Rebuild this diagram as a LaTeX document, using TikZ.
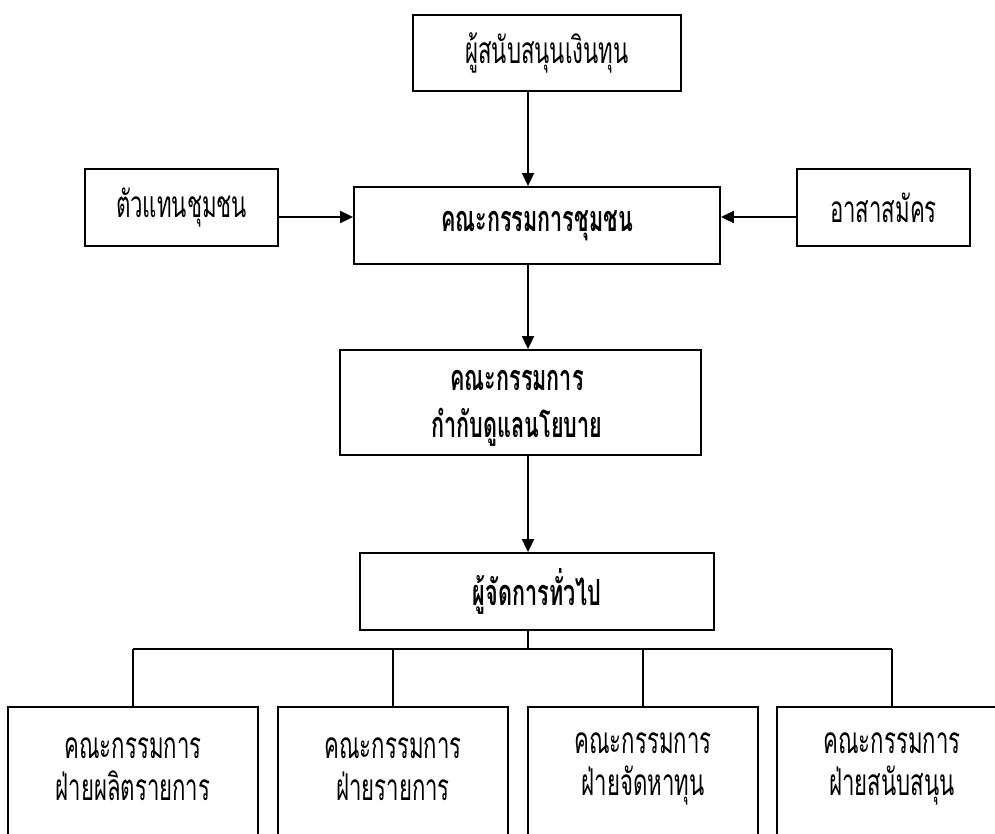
\documentclass[tikz,border=0pt]{standalone}
\usepackage{fontspec}
\newfontfamily\thaif[Script=Thai,FakeStretch=0.6]{Loma}
\usetikzlibrary{arrows.meta}
\begin{document}
\begin{tikzpicture}[x=1pt,y=-1pt,
  box/.style={draw, line width=1.8pt, inner sep=0pt, fill=white},
  txt/.style={font=\thaif\fontsize{37}{42}\selectfont, align=center, inner sep=0pt},
  btxt/.style={font=\thaif\bfseries\fontsize{36}{47}\selectfont, align=center, inner sep=0pt},
  arr/.style={line width=1.8pt, -{Triangle[length=13pt,width=12pt]}},
  ln/.style={line width=1.8pt}]
\useasboundingbox (0,0) rectangle (995,834);
\fill[white] (0,0) rectangle (995,834);
% top row
\node[box, txt, minimum width=268, minimum height=76] (fund) at (547,53) {ผู้สนับสนุนเงินทุน};
\node[box, txt, minimum width=193, minimum height=77] (rep) at (181.5,207.5) {ตัวแทนชุมชน};
\node[box, btxt, minimum width=366, minimum height=77] (comm) at (537,225.5) {คณะกรรมการชุมชน};
\node[box, txt, minimum width=173, minimum height=77] (vol) at (883.5,207.5) {อาสาสมัคร};
\node[box, minimum width=361, minimum height=105] (pol) at (520.5,402.5) {};
\node[btxt] (polt) at (517,408) {คณะกรรมการ\\กำกับดูแลนโยบาย};
\node[box, btxt, minimum width=354, minimum height=77] (gm) at (537,591.5) {ผู้จัดการทั่วไป};
% bottom row
\node[box, minimum width=250, minimum height=140] (b1) at (133,777) {};
\node[box, minimum width=230, minimum height=140] (b2) at (393,777) {};
\node[box, minimum width=230, minimum height=140] (b3) at (643,777) {};
\node[box, minimum width=230, minimum height=140] (b4) at (892,777) {};
\node[txt] (t1) at (b1.center |- 0,769) {คณะกรรมการ\\ฝ่ายผลิตรายการ};
\node[txt] (t2) at (b2.center |- 0,769) {คณะกรรมการ\\ฝ่ายรายการ};
\node[txt] (t3) at (b3.center |- 0,769) {คณะกรรมการ\\ฝ่ายจัดหาทุน};
\node[txt] (t4) at (b4.center |- 0,769) {คณะกรรมการ\\ฝ่ายสนับสนุน};
% connectors
\coordinate (ax) at (528,0);
\draw[arr] (fund.south -| ax) -- (comm.north -| ax);
\draw[arr] (rep.east |- 0,217) -- (comm.west |- 0,217);
\draw[arr] (vol.west |- 0,217) -- (comm.east |- 0,217);
\draw[arr] (comm.south -| ax) -- (pol.north -| ax);
\draw[arr] (pol.south -| ax) -- (gm.north -| ax);
\coordinate (bus) at (0,649);
\draw[ln] (gm.south -| ax) -- (bus -| ax);
\draw[ln] (b1.north |- bus) -- (b4.north |- bus);
\draw[ln] (b1.north |- bus) -- (b1.north);
\draw[ln] (b2.north |- bus) -- (b2.north);
\draw[ln] (b3.north |- bus) -- (b3.north);
\draw[ln] (b4.north |- bus) -- (b4.north);
\end{tikzpicture}
\end{document}
